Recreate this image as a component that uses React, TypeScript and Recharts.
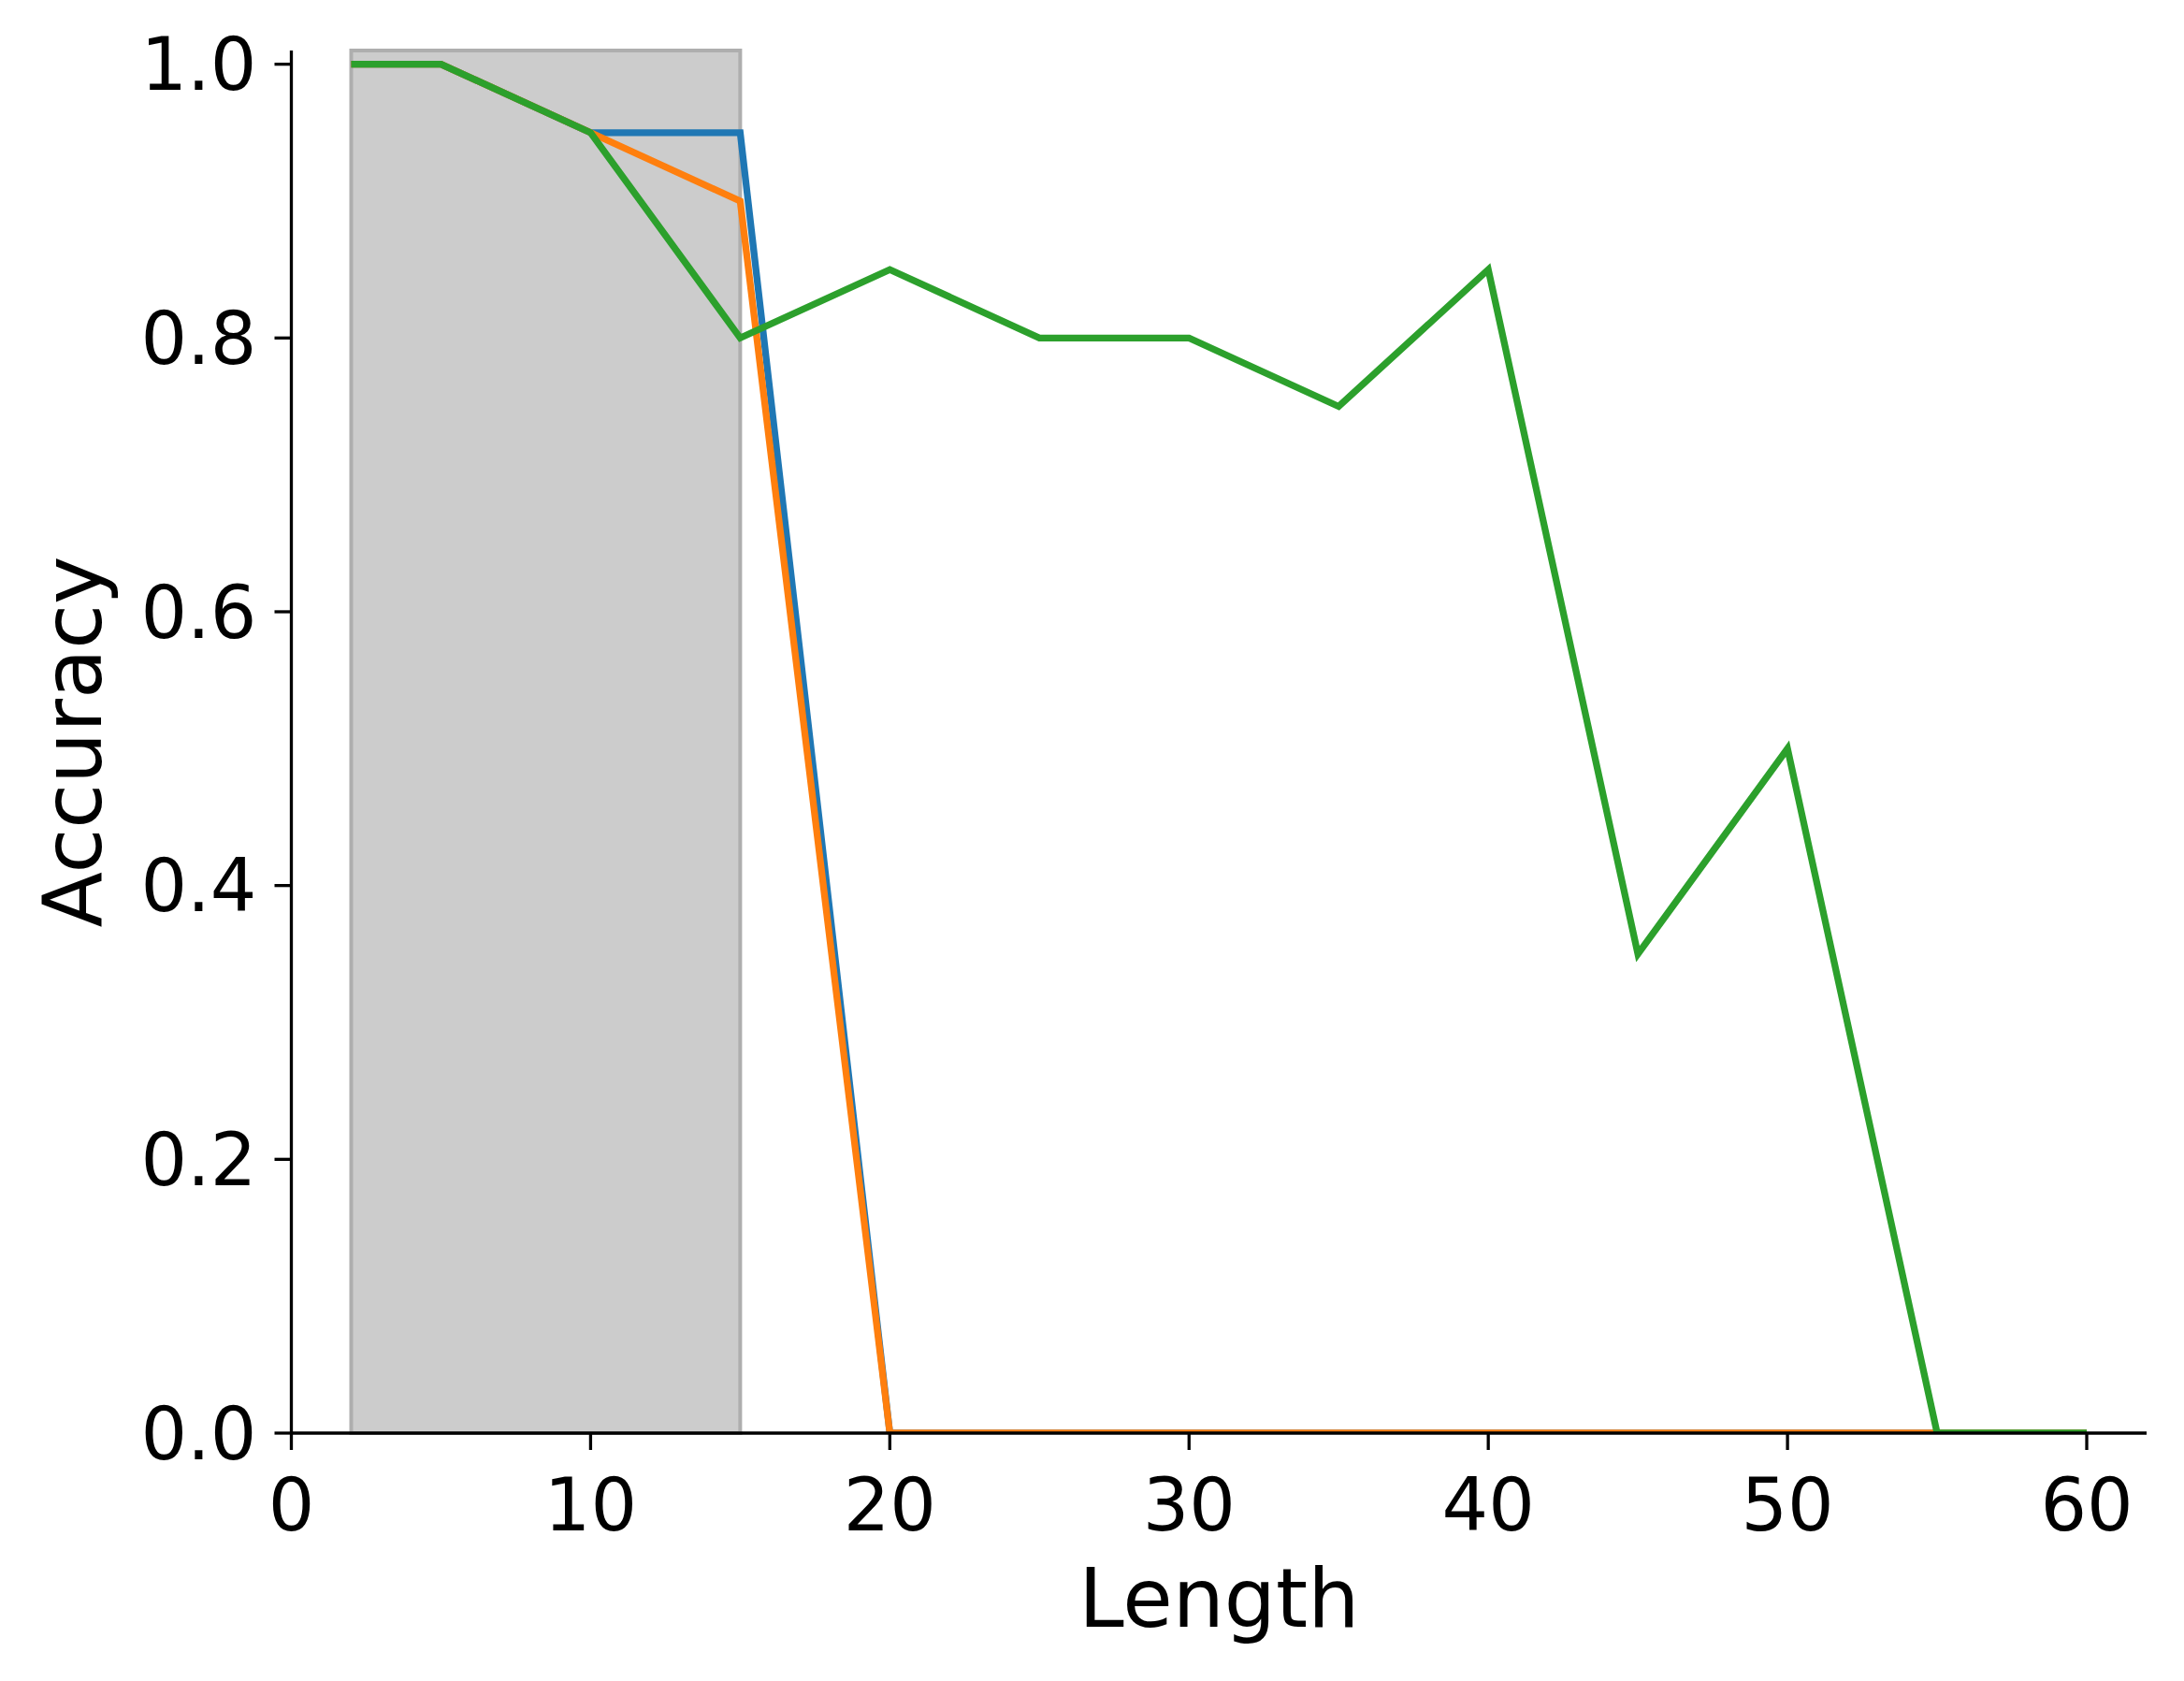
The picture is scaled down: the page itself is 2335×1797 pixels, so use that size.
import React from 'react';
import { LineChart, Line, XAxis, YAxis, ReferenceArea } from 'recharts';

const lengths = [2, 5, 10, 15, 20, 25, 30, 35, 40, 45, 50, 55, 60];
const seriesBlue = [1, 1, 0.95, 0.95, 0, 0, 0, 0, 0, 0, 0, 0, 0];
const seriesOrange = [1, 1, 0.95, 0.9, 0, 0, 0, 0, 0, 0, 0, 0, 0];
const seriesGreen = [1, 1, 0.95, 0.8, 0.85, 0.8, 0.8, 0.75, 0.85, 0.35, 0.5, 0, 0];
const xTicks = [0, 10, 20, 30, 40, 50, 60];
const yTicks = [0, 0.2, 0.4, 0.6, 0.8, 1.0];
const shadedRange = [2, 15];
const xDomain = [0, 62];
const yDomain = [0, 1.01];

const data = lengths.map((x, i) => ({
  x,
  blue: seriesBlue[i],
  orange: seriesOrange[i],
  green: seriesGreen[i],
}));

const W = 2335;
const H = 1797;
const PLOT_LEFT = 311.5;
const PLOT_RIGHT = 2295;
const PLOT_TOP = 54;
const PLOT_BOTTOM = 1532;
const Y_AXIS_W = 200;
const X_AXIS_H = 207;
const FONT = 'DejaVu Sans';

const tickStyle = { fill: '#000', fontSize: 78, fontFamily: FONT };
const lineAxis = { stroke: '#000', strokeWidth: 3.3 };

const YLabel = () => {
  const x = 108;
  const y = (PLOT_TOP + PLOT_BOTTOM) / 2;
  return (
    <text x={x} y={y} transform={`rotate(-90 ${x} ${y})`} textAnchor="middle" fontSize={87} fontFamily={FONT} fill="#000">
      Accuracy
    </text>
  );
};

const XLabel = () => {
  const x = (PLOT_LEFT + PLOT_RIGHT) / 2;
  const y = 1739;
  return (
    <text x={x} y={y} textAnchor="middle" fontSize={87} fontFamily={FONT} fill="#000">
      Length
    </text>
  );
};

export default function App() {
  return (
    <div style={{ position: 'absolute', left: 0, top: 0, background: '#fff' }}>
      <LineChart
        width={W}
        height={H}
        data={data}
        margin={{
          top: PLOT_TOP,
          right: W - PLOT_RIGHT,
          left: PLOT_LEFT - Y_AXIS_W,
          bottom: H - PLOT_BOTTOM - X_AXIS_H,
        }}
      >
        <XAxis
          dataKey="x"
          type="number"
          domain={xDomain}
          ticks={xTicks}
          allowDataOverflow
          height={X_AXIS_H}
          tick={tickStyle}
          tickSize={18}
          tickMargin={31}
          tickLine={lineAxis}
          axisLine={lineAxis}
          label={{ content: () => <XLabel /> }}
        />
        <YAxis
          type="number"
          domain={yDomain}
          ticks={yTicks}
          allowDataOverflow
          width={Y_AXIS_W}
          tick={tickStyle}
          tickSize={18}
          tickMargin={19}
          tickLine={lineAxis}
          axisLine={lineAxis}
          tickFormatter={(v: number) => v.toFixed(1)}
          label={{ content: () => <YLabel /> }}
        />
        <ReferenceArea
          x1={shadedRange[0]}
          x2={shadedRange[1]}
          y1={yDomain[0]}
          y2={yDomain[1]}
          fill="#cccccc"
          fillOpacity={1}
          stroke="#aeaeae"
          strokeWidth={4}
        />
        <Line type="linear" dataKey="blue" stroke="#1f77b4" strokeWidth={7.3} dot={false} isAnimationActive={false} />
        <Line type="linear" dataKey="orange" stroke="#ff7f0e" strokeWidth={7.3} dot={false} isAnimationActive={false} />
        <Line type="linear" dataKey="green" stroke="#2ca02c" strokeWidth={7.3} dot={false} isAnimationActive={false} />
      </LineChart>
    </div>
  );
}
